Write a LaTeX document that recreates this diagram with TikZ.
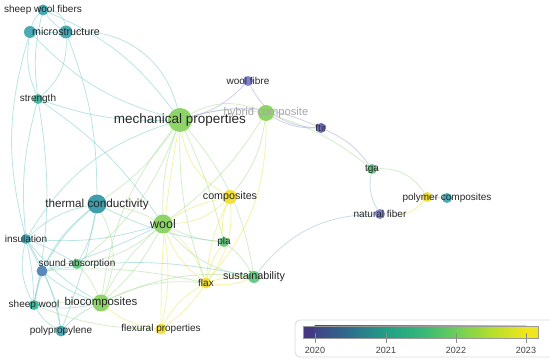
\documentclass[tikz,border=0pt]{standalone}
\usepackage{fontspec}
\setmainfont{Liberation Sans}
\usepackage{xcolor}
\definecolor{kpurple}{HTML}{8282D2}
\definecolor{kdpurple}{HTML}{7070C2}
\definecolor{kblue}{HTML}{5A88B8}
\definecolor{kteal}{HTML}{4AABB6}
\definecolor{kdteal}{HTML}{3E9EAB}
\definecolor{kteal2}{HTML}{40BA9F}
\definecolor{kgreen}{HTML}{66CC84}
\definecolor{klime}{HTML}{8ED469}
\definecolor{kyellow}{HTML}{F3E038}
\definecolor{lteal}{HTML}{78C9C9}
\definecolor{lgreen}{HTML}{A8DC94}
\definecolor{lyellow}{HTML}{EEE660}
\definecolor{lpurple}{HTML}{A0A0D4}
\definecolor{lblue}{HTML}{96B9CE}
\definecolor{vb0}{HTML}{453781}
\definecolor{vb1}{HTML}{404387}
\definecolor{vb2}{HTML}{2E6F8E}
\definecolor{vb3}{HTML}{21A086}
\definecolor{vb4}{HTML}{35B779}
\definecolor{vb5}{HTML}{6CCE59}
\definecolor{vb6}{HTML}{B4DE2C}
\definecolor{vb7}{HTML}{F1E51D}
\usepackage{tikz}
\usetikzlibrary{backgrounds}

\begin{document}
\begin{tikzpicture}[x=1pt, y=1pt,
  kw/.style={circle, inner sep=0pt, minimum size=#1},
  kw/.default=10,
  lbl/.style={font=\fontsize{10}{12}\selectfont, text=black!85, inner sep=0pt},
  tlink/.style={draw=lteal, line width=0.8pt, draw opacity=0.5},
  glink/.style={draw=lgreen, line width=0.8pt, draw opacity=0.5},
  ylink/.style={draw=lyellow, line width=0.8pt, draw opacity=0.55},
  plink/.style={draw=lpurple, line width=0.8pt, draw opacity=0.5},
  blink/.style={draw=lblue, line width=0.8pt, draw opacity=0.5},
  yearlbl/.style={font=\fontsize{9}{11}\selectfont, text=black!75}
]
\useasboundingbox (0,0) rectangle (550,363);

% unlabelled circles first
\node[kw=12, fill=kteal] (micA) at (30,331) {};
\node[kw=10, fill=kyellow] (polyY) at (427,166) {};
\node[kw=11, fill=kblue] (sndB) at (42,92) {};

\node[kw=11, fill=kteal, label={[lbl]center:sheep wool fibers}] (swf) at (43,353) {};
\node[kw=13, fill=kteal, label={[lbl, font=\fontsize{10.7}{12}\selectfont]center:microstructure}] (micro) at (66,331) {};
\node[kw=10, fill=kteal2, label={[lbl]center:strength}] (strength) at (38,264) {};
\node[kw=24, fill=klime, label={[lbl, font=\fontsize{13.5}{16}\selectfont]center:mechanical properties}] (mech) at (180,243) {};
\node[kw=16, fill=klime, label={[lbl, font=\fontsize{11.2}{13}\selectfont, text=black!35]center:hybrid composite}] (hyb) at (266,250) {};
\node[kw=10, fill=kpurple, label={[lbl]center:wool fibre}] (wfib) at (248,282) {};
\node[kw=10, fill=kdpurple, label={[lbl]center:ftir}] (ftir) at (321,235) {};
\node[kw=10, fill=kgreen, label={[lbl]center:tga}] (tga) at (372,194) {};
\node[kw=10, fill=kteal, label={[lbl]center:polymer composites}] (poly) at (447,165) {};
\node[kw=10, fill=kpurple, label={[lbl]center:natural fiber}] (natf) at (380,149) {};
\node[kw=14, fill=kyellow, label={[lbl, font=\fontsize{10.7}{12}\selectfont]center:composites}] (comp) at (230,166) {};
\node[kw=19, fill=kdteal, label={[lbl, font=\fontsize{11.7}{14}\selectfont]center:thermal conductivity}] (therm) at (97,159) {};
\node[kw=19, fill=klime, label={[lbl, font=\fontsize{12.5}{15}\selectfont]center:wool}] (wool) at (163,139) {};
\node[kw=10, fill=kgreen, label={[lbl]center:pla}] (pla) at (224,121) {};
\node[kw=10, fill=kteal, label={[lbl]center:insulation}] (ins) at (26,124) {};
\node[kw=10, fill=kgreen, label={[lbl]center:sound absorption}] (snd) at (77,99) {};
\node[kw=12, fill=kgreen, label={[lbl, font=\fontsize{10.8}{13}\selectfont]center:sustainability}] (sust) at (254,86) {};
\node[kw=11, fill=kyellow, label={[lbl]center:flax}] (flax) at (206,80) {};
\node[kw=10, fill=kteal2, label={[lbl]center:sheep wool}] (shw) at (34,58) {};
\node[kw=17, fill=klime, label={[lbl, font=\fontsize{11.4}{14}\selectfont]center:biocomposites}] (bio) at (101,60) {};
\node[kw=11, fill=kteal, label={[lbl]center:polypropylene}] (pp) at (61,32) {};
\node[kw=11, fill=kyellow, label={[lbl]center:flexural properties}] (flex) at (161,34) {};

\begin{scope}[on background layer]
\draw[tlink] (swf) to[bend left=40] (micro);
\draw[tlink] (swf) to[bend right=10] (micro);
\draw[tlink] (swf) to[bend right=15] (micA);
\draw[tlink] (micA) -- (micro);
\draw[tlink] (swf) to[bend right=10] (strength);
\draw[tlink] (micA) to[bend right=15] (strength);
\draw[tlink] (micro) to[bend left=25] (strength);
\draw[tlink] (micro) to[bend left=40] (mech);
\draw[tlink] (micA) to[bend right=15] (mech);
\draw[tlink] (swf) to[bend left=15] (mech);
\draw[tlink] (strength) to[bend right=10] (mech);
\draw[tlink] (strength) to[bend left=10] (wool);
\draw[tlink] (strength) to[bend right=10] (ins);
\draw[tlink] (strength) to[bend left=10] (shw);
\draw[tlink] (micA) to[bend right=15] (ins);
\draw[tlink] (micro) to[bend left=10] (therm);

\draw[glink] (mech) to[bend left=25] (hyb);
\draw[glink] (mech) to[bend left=12] (hyb);
\draw[plink] (mech) to[bend right=15] (wfib);
\draw[plink] (mech) to[bend left=20] (ftir);
\draw[glink] (hyb) to[bend left=10] (tga);
\draw[plink] (wfib) to[bend right=30] (ftir);
\draw[plink] (hyb) to[bend right=15] (ftir);
\draw[plink] (ftir) to[bend left=15] (tga);
\draw[blink] (tga) to[bend right=20] (natf);
\draw[glink] (tga) to[bend left=30] (polyY);
\draw[ylink] (natf) to[bend right=30] (polyY);
\draw[tlink] (polyY) -- (poly);
\draw[blink] (natf) to[bend right=25] (sust);
\draw[ylink] (mech) to[bend right=25] (comp);
\draw[glink] (hyb) to[bend left=15] (comp);
\draw[glink] (hyb) to[bend left=10] (wool);
\draw[ylink] (hyb) to[bend left=20] (flax);
\draw[glink] (mech) to[bend right=10] (wool);
\draw[glink] (mech) to[bend left=10] (therm);
\draw[glink] (mech) to[bend left=5] (pla);
\draw[glink] (mech) to[bend right=10] (flax);
\draw[glink] (mech) to[bend right=15] (bio);
\draw[glink] (mech) to[bend left=15] (snd);
\draw[tlink] (mech) to[bend right=20] (ins);
\draw[glink] (mech) to[bend left=15] (sust);
\draw[ylink] (mech) to[bend right=5] (flex);

\draw[tlink] (therm) to[bend right=15] (ins);
\draw[tlink] (therm) to[bend right=10] (sndB);
\draw[tlink] (therm) to[bend left=10] (snd);
\draw[glink] (therm) to[bend left=25] (bio);
\draw[glink] (therm) to[bend left=10] (wool);
\draw[tlink] (therm) to[bend right=20] (shw);
\draw[tlink] (therm) to[bend left=5] (pp);
\draw[tlink] (therm) to[bend right=10] (pla);
\draw[ylink] (wool) to[bend right=20] (comp);
\draw[ylink] (wool) to[bend left=10] (comp);
\draw[glink] (wool) to[bend right=10] (pla);
\draw[ylink] (wool) to[bend right=15] (flax);
\draw[ylink] (wool) to[bend left=15] (flax);
\draw[ylink] (wool) to[bend left=10] (flex);
\draw[glink] (wool) to[bend right=20] (sust);
\draw[glink] (wool) to[bend left=10] (bio);
\draw[glink] (wool) to[bend right=10] (bio);
\draw[glink] (wool) to[bend left=15] (snd);
\draw[tlink] (wool) to[bend left=10] (ins);
\draw[tlink] (wool) to[bend left=5] (sndB);
\draw[ylink] (comp) to[bend right=15] (pla);
\draw[ylink] (comp) to[bend left=20] (flax);
\draw[ylink] (comp) to[bend right=10] (flax);
\draw[glink] (pla) to[bend left=10] (sust);
\draw[ylink] (pla) to[bend right=10] (flax);
\draw[ylink] (flax) to[bend right=15] (sust);
\draw[ylink] (flax) to[bend left=10] (sust);
\draw[ylink] (flax) to[bend right=15] (flex);
\draw[ylink] (flax) to[bend left=10] (flex);
\draw[glink] (flax) to[bend right=15] (bio);
\draw[glink] (bio) to[bend left=15] (sust);
\draw[tlink] (bio) to[bend left=10] (shw);
\draw[glink] (bio) to[bend right=5] (shw);
\draw[tlink] (bio) to[bend right=10] (pp);
\draw[glink] (bio) to[bend right=10] (snd);
\draw[tlink] (bio) to[bend left=10] (sndB);
\draw[ylink] (bio) to[bend right=15] (flex);
\draw[tlink] (ins) to[bend right=20] (shw);
\draw[tlink] (ins) to[bend left=5] (shw);
\draw[tlink] (ins) to[bend left=10] (pp);
\draw[tlink] (ins) -- (sndB);
\draw[tlink] (ins) to[bend right=10] (bio);
\draw[tlink] (ins) to[bend left=5] (snd);
\draw[tlink] (sndB) to[bend right=5] (shw);
\draw[tlink] (sndB) to[bend left=10] (pp);
\draw[tlink] (sndB) to[bend left=10] (sust);
\draw[glink] (sndB) to[bend left=8] (flax);
\draw[tlink] (shw) to[bend right=15] (pp);
\draw[glink] (shw) to[bend right=10] (flex);
\end{scope}

\draw[rounded corners=5pt, draw=black!15, line width=0.8pt] (295,6) rectangle (565,43);
\fill[vb0] (303,25) rectangle (315.5,37);
\foreach \xa/\xb/\ca/\cb in {315/350/vb1/vb2, 350/386/vb2/vb3, 386/421/vb3/vb4, 421/456/vb4/vb5, 456/491/vb5/vb6, 491/526/vb6/vb7}
  \shade[left color=\ca, right color=\cb] (\xa-0.3,25) rectangle (\xb+0.3,37);
\fill[vb7] (525.7,25) rectangle (538,37);
\draw[black!40, line width=0.6pt] (303,25) rectangle (538,37);
\foreach \x/\yr in {315/2020, 386/2021, 456/2022, 526/2023} {
  \draw[black!45, line width=0.6pt] (\x,20) -- (\x,30);
  \node[yearlbl] (y\yr) at (\x,13) {\yr};
}
\end{tikzpicture}
\end{document}
